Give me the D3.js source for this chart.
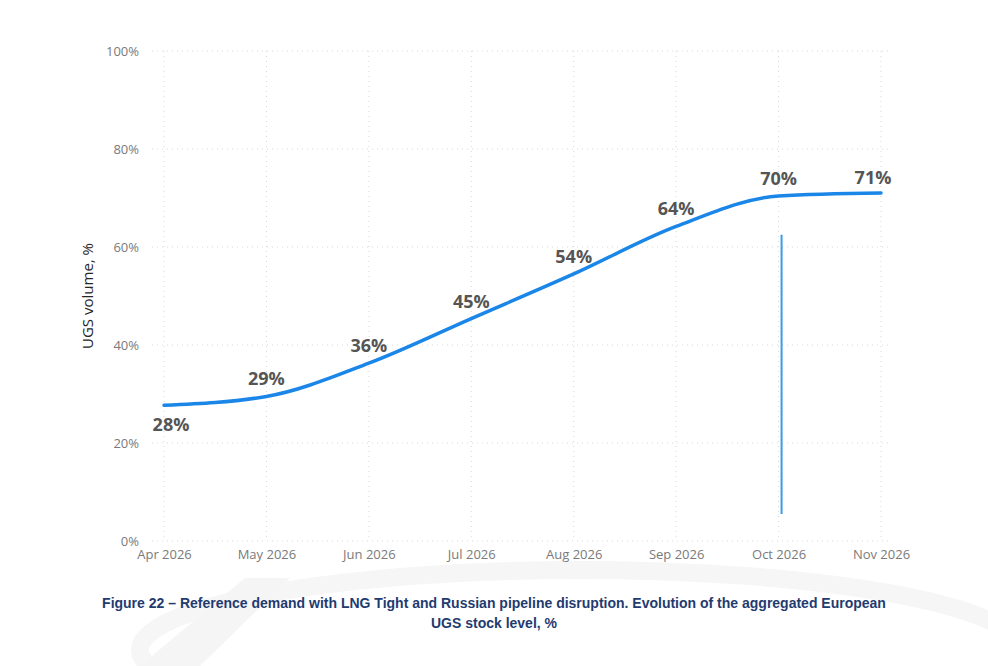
<!DOCTYPE html>
<html>
<head>
<meta charset="utf-8">
<script src="https://cdn.jsdelivr.net/npm/d3@7"></script>
<style>
  body { margin: 0; background: #fff; }
  svg { display: block; }
</style>
</head>
<body>
<div id="chart"></div>
<script>
const months = ["Apr 2026", "May 2026", "Jun 2026", "Jul 2026", "Aug 2026", "Sep 2026", "Oct 2026", "Nov 2026"];
const stock = [27.7, 29.5, 36.3, 45.4, 54.5, 64.2, 70.4, 71.0];
const labels = ["28%", "29%", "36%", "45%", "54%", "64%", "70%", "71%"];
const yTicks = [0, 20, 40, 60, 80, 100];
const markerMonth = "Oct 2026";
const markerRange = [5.5, 62.5];
const captionLines = [
  "Figure 22 \u2013 Reference demand with LNG Tight and Russian pipeline disruption. Evolution of the aggregated European",
  "UGS stock level, %"
];

const width = 988;
const height = 666;

const svg = d3.select("#chart")
  .append("svg")
  .attr("width", width)
  .attr("height", height);

// faint watermark in the background
const wm = svg.append("g").attr("fill", "none").attr("stroke", "#f6f6f6");
wm.append("ellipse")
  .attr("cx", 580).attr("cy", 650).attr("rx", 440).attr("ry", 80)
  .attr("stroke-width", 18);
wm.append("path")
  .attr("d", "M140,666 L245,578 L290,578 L200,666 Z")
  .attr("fill", "#f5f5f5").attr("stroke", "none");

const x = d3.scalePoint()
  .domain(months)
  .range([164, 881]);

const y = d3.scaleLinear()
  .domain([0, 100])
  .range([541, 51]);

// gridlines
const grid = svg.append("g")
  .attr("stroke", "#d9d9d9")
  .attr("stroke-width", 1)
  .attr("stroke-dasharray", "1,4");

grid.selectAll("line.h")
  .data(yTicks)
  .join("line")
  .attr("class", "h")
  .attr("x1", 152)
  .attr("x2", 890)
  .attr("y1", d => y(d))
  .attr("y2", d => y(d));

grid.selectAll("line.v")
  .data(months)
  .join("line")
  .attr("class", "v")
  .attr("x1", d => x(d))
  .attr("x2", d => x(d))
  .attr("y1", y(100))
  .attr("y2", y(0));

// y axis
const yAxis = svg.append("g")
  .attr("transform", "translate(142,0)")
  .call(d3.axisLeft(y).tickValues(yTicks).tickFormat(d => d + "%").tickSize(0));
yAxis.select(".domain").remove();
yAxis.selectAll("text")
  .attr("fill", "#7a7a7a")
  .attr("font-size", "13px")
  .attr("font-family", "'Segoe UI', 'Open Sans', sans-serif");

// x axis
const xAxis = svg.append("g")
  .attr("transform", "translate(0,547)")
  .call(d3.axisBottom(x).tickSize(0));
xAxis.select(".domain").remove();
xAxis.selectAll("text")
  .attr("fill", "#7a7a7a")
  .attr("font-size", "13px")
  .attr("font-family", "'Segoe UI', 'Open Sans', sans-serif");

// axis title
svg.append("text")
  .attr("transform", "translate(93,296) rotate(-90)")
  .attr("text-anchor", "middle")
  .attr("fill", "#262626")
  .attr("font-size", "15px")
  .attr("font-family", "'Segoe UI', 'Open Sans', sans-serif")
  .text("UGS volume, %");

// marker line
svg.append("line")
  .attr("x1", x(markerMonth) + 3)
  .attr("x2", x(markerMonth) + 3)
  .attr("y1", y(markerRange[1]))
  .attr("y2", y(markerRange[0]))
  .attr("stroke", "#3a9be6")
  .attr("stroke-width", 2);

// stock line
const line = d3.line()
  .x((d, i) => x(months[i]))
  .y(d => y(d))
  .curve(d3.curveMonotoneX);

svg.append("path")
  .datum(stock)
  .attr("d", line)
  .attr("fill", "none")
  .attr("stroke", "#1a86e8")
  .attr("stroke-width", 3.5)
  .attr("stroke-linecap", "round");

// data labels
svg.selectAll("text.lbl")
  .data(stock)
  .join("text")
  .attr("class", "lbl")
  .attr("x", (d, i) => x(months[i]) + (i === 0 ? 7 : (i === 7 ? -8 : 0)))
  .attr("y", (d, i) => i === 0 ? y(d) + 26 : y(d) - (i === 7 ? 9 : 11))
  .attr("text-anchor", "middle")
  .attr("fill", "#555")
  .attr("font-size", "18px")
  .attr("font-weight", "bold")
  .attr("font-family", "'Segoe UI', 'Open Sans', sans-serif")
  .text((d, i) => labels[i]);

// caption
svg.selectAll("text.cap")
  .data(captionLines)
  .join("text")
  .attr("class", "cap")
  .attr("x", 494)
  .attr("y", (d, i) => 608 + i * 20)
  .attr("text-anchor", "middle")
  .attr("fill", "#1f3b70")
  .attr("font-size", "14px")
  .attr("font-weight", "bold")
  .attr("font-family", "'Liberation Sans Narrow', 'Arial Narrow', sans-serif")
  .text(d => d);
</script>
</body>
</html>
